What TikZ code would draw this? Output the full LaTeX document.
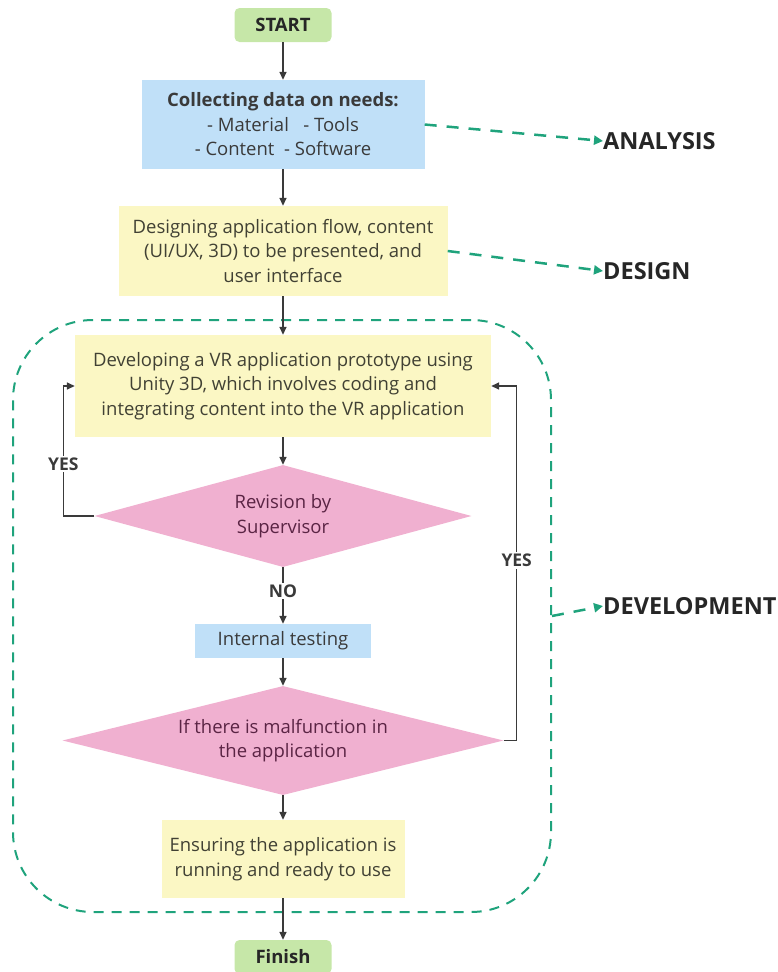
\documentclass[tikz,border=0pt]{standalone}
\usepackage{fontspec}
\setmainfont{Open Sans}
\usetikzlibrary{shapes.geometric,arrows.meta}
\definecolor{startgreen}{HTML}{C6E7A8}
\definecolor{boxblue}{HTML}{C0E0F8}
\definecolor{boxyellow}{HTML}{FBF7C4}
\definecolor{diapink}{HTML}{F0B0D0}
\definecolor{phase}{HTML}{1FA37C}
\definecolor{ink}{HTML}{3A3A3A}
\definecolor{maroon}{HTML}{5A2444}

\begin{document}
\begin{tikzpicture}[x=1pt,y=-1pt, font=\fontsize{18.5}{24.5}\selectfont,
  term/.style={fill=startgreen, rounded corners=5, minimum width=97, minimum height=34,
    font=\fontsize{18.5}{20}\selectfont\bfseries, text=black!85},
  task/.style={fill=boxblue, align=center, text=ink, inner sep=0},
  work/.style={fill=boxyellow, align=center, text=ink!90!olive, inner sep=0},
  decide/.style={diamond, fill=diapink, align=center, text=maroon, inner sep=0},
  flow/.style={ink, line width=1.5pt, -{Triangle[length=8pt,width=7pt]}},
  answer/.style={fill=white, text=ink, inner sep=2pt, font=\fontsize{17.5}{19}\selectfont\bfseries},
  phasearrow/.style={phase, line width=2.5pt, dash pattern=on 12pt off 10pt, -{Triangle[length=9pt,width=9pt]}},
  phaselabel/.style={anchor=west, inner sep=0, text=black!85, font=\fontsize{23.5}{25}\selectfont\bfseries}]
\useasboundingbox (0,0) rectangle (777,972);

% development frame
\node[draw=phase, line width=2pt, dash pattern=on 10pt off 8pt, rounded corners=80,
  minimum width=538, minimum height=592] (devbox) at (282,616) {};

% main flow
\node[term] (start) at (283,25) {START};
\node[task, minimum width=283, minimum height=89] (collect) at (283,124.5)
  {\textbf{Collecting data on needs:}\\- Material~~ - Tools\\- Content~ - Software};
\node[work, minimum width=329, minimum height=90] (design) at (283,251)
  {Designing application flow, content\\(UI/UX, 3D) to be presented, and\\user interface};
\node[work, minimum width=416, minimum height=102] (dev) at (283,386)
  {Developing a VR application prototype using\\Unity 3D, which involves coding and\\integrating content into the VR application};
\node[decide, aspect=3.7, minimum width=377, minimum height=102] (rev) at (283,516) {Revision by\\Supervisor};
\node[task, minimum width=176, minimum height=34] (test) at (283,641) {Internal testing};
\node[decide, aspect=4.05, minimum width=441, minimum height=109] (mal) at (283,740.5)
  {If there is malfunction in\\the application};
\node[work, minimum width=243, minimum height=78] (ready) at (283,859)
  {Ensuring the application is\\running and ready to use};
\node[term] (finish) at (283,957) {Finish};

\draw[flow] (start) -- (collect);
\draw[flow] (collect) -- (design);
\draw[flow] (design) -- (dev);
\draw[flow] (dev) -- (rev);
\draw[flow] (rev) -- node[answer, pos=0.42] {NO} (test);
\draw[flow] (test) -- (mal);
\draw[flow] (mal) -- (ready);
\draw[flow] (ready) -- (finish);

% loops back
\draw[flow] (rev.west) -- ++(-31,0) |- node[answer, pos=0.2] {YES} (dev.west);
\draw[flow] (mal.east) -- ++(13,0) |- node[answer, pos=0.254] {YES} (dev.east);

% phases
\node[phaselabel] (analysis) at (603,141) {ANALYSIS};
\node[phaselabel] (designlbl) at (603,271) {DESIGN};
\node[phaselabel] (devlbl) at (603,606) {DEVELOPMENT};
\draw[phasearrow] (collect.east) -- (analysis.west);
\draw[phasearrow] (design.east) -- (designlbl.west);
\draw[phasearrow] (devbox.east) -- (devlbl.west);
\end{tikzpicture}
\end{document}
